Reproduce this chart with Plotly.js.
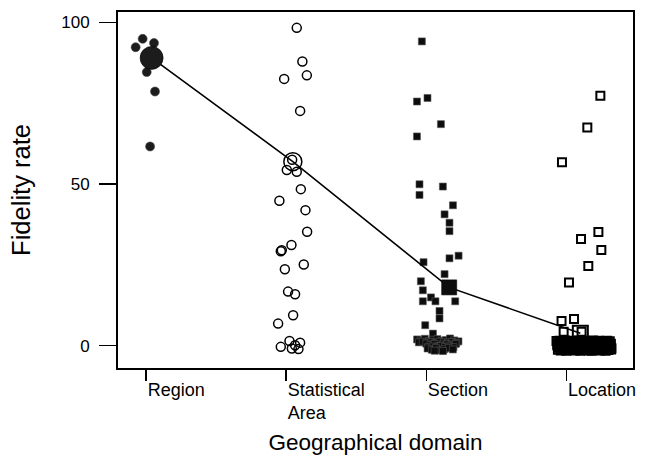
<!DOCTYPE html>
<html>
<head>
<meta charset="utf-8">
<script src="https://cdn.plot.ly/plotly-3.0.1.min.js"></script>
<style>html,body{margin:0;padding:0;background:#fff;}#chart{width:647px;height:458px;}</style>
</head>
<body>
<div id="chart"></div>
<script>
// Category labels and tick positions
const categories = ["Region", "Statistical<br>Area", "Section", "Location"];
const categoryIndex = [0, 1, 2, 3];

// Region (filled dots): jittered x position and fidelity rate
const regionX = [-0.024, -0.074, 0.057, 0.005, 0.064, 0.029, 0.014, 0.070];
const regionY = [94.9, 92.3, 93.6, 84.6, 78.6, 61.6, 90.0, 88.0];

// Statistical Area (open circles)
const statX = [1.076, 1.116, 1.148, 0.986, 1.100, 1.005, 1.076, 1.043, 1.105, 0.952, 1.138, 1.150, 1.038, 0.969, 0.962, 1.126, 0.991, 1.014, 1.064, 1.050, 0.943, 0.962, 1.024, 1.100, 1.041, 1.088, 1.064];
const statY = [98.3, 87.9, 83.6, 82.5, 72.6, 54.3, 53.8, 57.5, 48.4, 44.8, 41.9, 35.2, 31.1, 29.5, 29.2, 25.1, 23.6, 16.7, 15.9, 9.4, 6.8, -0.4, 1.4, 0.9, -0.9, -1.1, 0.1];

// Section (filled squares)
const sectionX = [1.969, 2.009, 1.934, 2.105, 1.934, 1.952, 2.119, 1.952, 2.191, 2.131, 2.166, 2.166, 2.231, 2.166, 1.981, 2.131, 1.962, 1.976, 2.034, 1.976, 2.066, 2.207, 2.095, 2.095, 1.993, 2.048,
  1.935, 1.960, 1.990, 2.020, 2.050, 2.080, 2.110, 2.140, 2.170, 2.200, 2.230,
  1.948, 1.975, 2.005, 2.035, 2.065, 2.095, 2.125, 2.155, 2.185, 2.215,
  2.000, 2.030, 2.060, 2.090, 2.120, 2.150, 2.180, 2.210,
  2.015, 2.045, 2.075, 2.105, 2.135, 2.165, 2.195,
  2.010, 2.040, 2.070, 2.100, 2.130, 2.160, 2.190, 2.060, 2.120];
const sectionY = [94.1, 76.6, 75.5, 68.5, 64.7, 49.9, 49.2, 46.6, 43.4, 40.6, 38.0, 35.4, 27.8, 27.0, 25.8, 22.1, 19.9, 17.1, 14.9, 13.7, 13.7, 13.7, 10.7, 8.4, 6.3, 3.7,
  1.9, 1.6, 2.1, 1.4, 1.8, 2.0, 1.5, 1.7, 2.2, 1.6, 1.3,
  1.0, 1.2, 0.9, 1.1, 0.8, 1.2, 1.0, 0.9, 1.1, 0.8,
  0.6, 0.2, 0.5, -0.1, 0.3, 0.4, 0.1, 0.5,
  -0.4, -0.3, -0.5, -0.2, -0.4, -0.3, -0.5,
  -0.9, -1.3, -0.8, -1.5, -1.1, -0.8, -1.2, -1.6, -1.7];

// Location (open squares)
const locationX = [3.243, 3.150, 2.969, 3.229, 3.105, 3.250, 3.157, 3.019, 2.966, 3.055, 2.981, 3.109,
  2.930, 2.950, 2.970, 2.990, 3.010, 3.030, 3.050, 3.070, 3.090, 3.110, 3.130, 3.150, 3.170, 3.190, 3.210, 3.230, 3.250, 3.270, 3.290, 3.310,
  2.938, 2.958, 2.978, 2.998, 3.018, 3.038, 3.058, 3.078, 3.098, 3.118, 3.138, 3.158, 3.178, 3.198, 3.218, 3.238, 3.258, 3.278, 3.298, 3.318,
  2.935, 2.955, 2.975, 2.995, 3.015, 3.035, 3.055, 3.075, 3.095, 3.115, 3.135, 3.155, 3.175, 3.195, 3.215, 3.235, 3.255, 3.275, 3.295, 3.315,
  2.942, 2.962, 2.982, 3.002, 3.022, 3.042, 3.062, 3.082, 3.102, 3.122, 3.142, 3.162, 3.182, 3.202, 3.222, 3.242, 3.262, 3.282, 3.302, 3.322,
  2.940, 2.960, 2.980, 3.000, 3.020, 3.040, 3.060, 3.080, 3.100, 3.120, 3.140, 3.160, 3.180, 3.200, 3.220, 3.240, 3.260, 3.280, 3.300, 3.320];
const locationY = [77.3, 67.5, 56.7, 35.1, 33.0, 29.6, 24.6, 19.5, 7.6, 8.2, 4.3, 4.3,
  1.4, 1.5, 1.3, 1.6, 1.4, 1.2, 1.5, 1.3, 1.6, 1.4, 1.5, 1.2, 1.4, 1.6, 1.3, 1.5, 1.4, 1.2, 1.5, 1.3,
  0.7, 0.8, 0.6, 0.7, 0.9, 0.6, 0.8, 0.7, 0.6, 0.8, 0.7, 0.9, 0.6, 0.7, 0.8, 0.6, 0.7, 0.9, 0.7, 0.6,
  0.1, -0.1, 0.2, 0.0, -0.2, 0.1, 0.0, 0.2, -0.1, 0.1, 0.0, -0.2, 0.1, 0.2, 0.0, -0.1, 0.1, 0.0, 0.2, -0.1,
  -0.7, -0.6, -0.8, -0.7, -0.6, -0.9, -0.7, -0.8, -0.6, -0.7, -0.8, -0.6, -0.7, -0.9, -0.7, -0.6, -0.8, -0.7, -0.6, -0.8,
  -1.3, -1.5, -1.2, -1.6, -1.4, -1.3, -1.5, -1.2, -1.6, -1.4, -1.3, -1.5, -1.6, -1.2, -1.4, -1.5, -1.3, -1.6, -1.4, -1.2];

// Mean fidelity rate per domain (connected by the line)
const meanX = [0.040, 1.048, 2.164, 3.100];
const meanY = [89.0, 56.9, 18.0, 3.8];

const yTicks = [0, 50, 100];

const traces = [
  {x: regionX, y: regionY, type: "scatter", mode: "markers",
   marker: {symbol: "circle", size: 9, color: "#1c1c1c", opacity: 1, line: {width: 0.6, color: "#444"}}, hoverinfo: "skip"},
  {x: statX, y: statY, type: "scatter", mode: "markers",
   marker: {symbol: "circle-open", size: 9, color: "#000", opacity: 1, line: {width: 1.5}}, hoverinfo: "skip"},
  {x: sectionX, y: sectionY, type: "scatter", mode: "markers",
   marker: {symbol: "square", size: 7, color: "#0d0d0d", opacity: 1, line: {width: 0.6, color: "#555"}}, hoverinfo: "skip"},
  {x: locationX, y: locationY, type: "scatter", mode: "markers",
   marker: {symbol: "square-open", size: 8, color: "#000", opacity: 1, line: {width: 2}}, hoverinfo: "skip"},
  {x: meanX, y: meanY, type: "scatter", mode: "lines+markers",
   line: {color: "#000", width: 1.6},
   marker: {symbol: ["circle", "circle-open", "square", "square-open"], size: [23, 18, 15, 15], opacity: 1,
            color: ["#1c1c1c", "#000", "#0d0d0d", "#000"], line: {width: [0.6, 1.5, 0.6, 2], color: "#000"}},
   hoverinfo: "skip"}
];

const layout = {
  width: 647, height: 458,
  margin: {l: 117.7, r: 14.3, t: 12.3, b: 90.3},
  paper_bgcolor: "#fff", plot_bgcolor: "#fff",
  showlegend: false,
  font: {family: "Liberation Sans, Arial, sans-serif", color: "#000"},
  xaxis: {
    range: [-0.2, 3.476], tickmode: "array", tickvals: categoryIndex, ticktext: categories,
    ticks: "outside", ticklen: 11, tickwidth: 1.3, tickcolor: "#000",
    ticklabelposition: "outside right", ticklabelstandoff: 4,
    showgrid: false, zeroline: false, showline: true, mirror: true, linewidth: 2, linecolor: "#000",
    tickfont: {size: 18, color: "#000"},
    title: {text: "Geographical domain", font: {size: 22.5, color: "#000"}, standoff: 12}
  },
  yaxis: {
    range: [-6.94, 103.2], tickmode: "array", tickvals: yTicks, ticktext: yTicks.map(String),
    ticks: "outside", ticklen: 17, tickwidth: 1.3, tickcolor: "#000", ticklabelstandoff: 6,
    showgrid: false, zeroline: false, showline: true, mirror: true, linewidth: 2, linecolor: "#000",
    tickfont: {size: 17, color: "#000"},
    title: {text: "Fidelity rate", font: {size: 25.5, color: "#000"}, standoff: 23}
  }
};

Plotly.newPlot("chart", traces, layout, {staticPlot: true, displayModeBar: false});
</script>
</body>
</html>
